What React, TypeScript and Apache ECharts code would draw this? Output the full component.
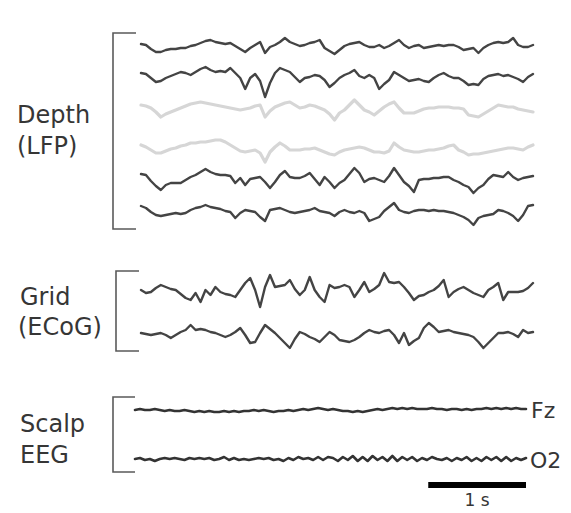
import { useEffect, useRef } from "react";
import * as echarts from "echarts";

// ---- data (trace deviations, px-equivalent units, positive = up) ----
const DURATION_S = 4; // each trace spans 4 s
const SCALE_BAR_S = [3, 4]; // 1 s scale bar

const depth1 = [
  2, 1, -3, -6, -6, -4, -3, -3, -2, -2,
  0, 1, 3, 5, 6, 4, 3, 2, 3, 0,
  -3, -6, -2, 1, 4, -7, -1, 1, 4, 8,
  4, 2, 0, 1, 3, 4, 6, -2, -5, -8,
  -4, 0, 2, 3, 4, 1, -1, -1, 1, -2,
  0, 3, 6, 1, -2, 0, 1, -2, -1, 0,
  1, 0, 1, 1, -1, -4, -3, -2, -7, -2,
  1, 3, 4, 3, 4, 8, 1, -1, -1, 1,
];
const depth2 = [
  2, 1, -3, -7, -6, -3, -1, 1, 3, 2,
  0, 3, 6, 8, 5, 3, 4, 3, 7, 2,
  -3, -14, -3, 1, -6, -22, -8, 2, 7, 5,
  3, -2, -7, -3, -2, 0, -1, -5, -12, -8,
  -3, 0, 2, 5, -1, -3, 0, -3, -14, -9,
  -5, 3, 0, -3, -6, -5, -4, -6, -7, -3,
  0, 2, -1, -3, -3, -6, -10, -9, -10, -4,
  -1, 0, 1, -1, 0, -2, -4, -7, -2, 1,
];
const depth3 = [
  4, 3, 1, -3, -8, -5, -3, -1, 1, 3,
  5, 6, 7, 6, 5, 4, 3, 2, 1, 0,
  -1, 0, 1, 3, 4, -8, -2, 2, 4, 6,
  7, 4, 1, 2, 4, 3, 1, -1, -5, -11,
  -4, -1, 4, 9, 4, -1, -3, -6, -2, 2,
  5, 7, 1, -4, -4, -4, -2, 0, 1, 1,
  2, 2, 2, 1, 1, 0, -6, -7, -8, -5,
  -2, 1, 4, 3, 2, 2, 0, -1, -2, -3,
];
const depth4 = [
  4, 2, -1, -4, -4, -2, 0, 1, 3, 4,
  6, 6, 7, 7, 8, 9, 9, 7, 4, 1,
  -2, -3, -2, -1, -4, -13, -3, 2, 6, 3,
  -1, -1, -1, 0, 0, 1, -1, -3, -5, -6,
  -3, -1, 0, 1, 2, 1, -1, -3, -3, -4,
  -2, 6, 2, -1, -2, -3, -3, -2, -1, -1,
  0, 1, 3, 4, -1, -3, -6, -5, -5, -4,
  -3, -2, -1, 0, 1, 1, 0, -1, 2, 4,
];
const depth5 = [
  5, 4, -2, -7, -11, -6, -4, -4, -4, -1,
  2, 4, 7, 10, 7, 5, 4, 4, 3, -4,
  1, -6, 0, 1, 2, -3, -9, -3, 4, 8,
  2, 1, 1, 3, 6, 0, -6, 2, -3, -9,
  -4, -1, 5, 11, 6, -3, 0, 1, -1, -3,
  3, 11, 4, -3, -7, -13, -1, 0, 0, 1,
  1, 2, 2, -1, -3, -6, -8, -14, -9, -6,
  0, 4, 3, 2, 7, 2, -1, 1, 2, 3,
];
const depth6 = [
  7, 5, 1, -2, -3, -2, -1, 0, -1, 0,
  3, 5, 6, 8, 6, 5, 4, 2, 1, -5,
  0, 3, 2, 1, -4, -8, 3, 4, 5, 3,
  1, 0, 1, 2, 3, 5, 2, 1, 0, -3,
  1, 3, 1, 0, 2, 0, -8, -6, -4, 2,
  6, 10, 3, 1, 0, 2, 3, 3, 2, 3,
  2, 2, 1, 0, -2, -4, -7, -12, -5, -3,
  -2, -1, 3, 2, 0, -3, -8, -2, 7, 8,
];
const ecog1 = [
  0, -3, -2, 2, 5, 3, 1, 0, -4, -8,
  -10, -3, -12, 0, -5, 3, -2, -4, -5, -7,
  0, 7, 12, 0, -17, 3, 15, 3, 4, 5,
  10, 1, -5, 0, 13, 0, -7, -12, 5, 2,
  3, 5, 3, -7, 0, 8, -2, 1, 5, 17,
  8, 7, 8, 3, -3, -10, -6, -5, -2, 0,
  4, 10, -7, -2, 1, 3, 0, -3, -5, -7,
  0, 3, 7, -10, -2, -2, -2, -1, 2, 7,
];
const ecog2 = [
  2, 1, 0, 1, 2, 0, -3, 0, 3, 5,
  10, 5, 6, 5, 3, 2, 0, -2, 0, 3,
  7, 0, -8, -7, 2, 10, 6, 2, -3, -8,
  -13, -4, 3, 1, -2, -4, -7, -2, 3, 0,
  -5, -6, -7, -5, -2, 2, 5, 3, 2, 4,
  5, 0, -8, 2, -10, -6, -3, 7, 12, 8,
  3, 4, 5, 3, 2, 1, 0, -2, -7, -13,
  -8, -3, 2, 2, 3, 1, -2, 5, 2, 3,
];
const fz = [
  0, 1, 0, 0, 1, 0, -1, 0, -1, -1,
  0, -1, -2, -1, -2, -1, -2, -2, -1, -2,
  -1, -2, -1, -1, 0, -1, 0, -1, -2, -1,
  -1, 0, -1, 0, 1, 0, 1, 2, 1, 0,
  1, 0, -1, -1, -2, -1, -2, -1, 0, 1,
  0, 1, 2, 1, 2, 1, 2, 1, 1, 1,
  2, 1, 1, 0, 1, 1, 0, 1, 0, 1,
  1, 2, 1, 2, 1, 2, 1, 2, 1, 1,
];
const o2 = [
  0, 1, -1, 0, -2, 0, 1, 0, 1, 0,
  -1, 1, 0, 1, 0, 1, -1, 0, 2, -1,
  1, -1, 0, -1, 0, 1, 0, 1, -1, 0,
  -2, 1, -1, 2, 0, 1, -1, 2, -1, 2,
  1, -2, 2, -1, 3, -2, 2, -2, 3, -1,
  2, -2, 3, -2, 2, -1, 2, -2, 1, -1,
  2, 0, -1, 1, -2, 1, -1, 2, -2, 1,
  -2, 2, -1, 2, -2, 2, -2, 1, -1, 1,
];

const groupLabels = ["Depth", "(LFP)", "Grid", "(ECoG)", "Scalp", "EEG"];
const channelLabels = ["Fz", "O2"];
const scaleLabel = "1 s";

// ---- layout ----
const W = 571;
const H = 513;
const DARK = "#444444";
const LIGHT = "#d6d6d6";
const TEXT = "#363636";

type Trace = { values: number[]; base: number; color: string; width: number; grid: number };
const traces: Trace[] = [
  { values: depth1, base: 46, color: DARK, width: 2.4, grid: 0 },
  { values: depth2, base: 75, color: DARK, width: 2.4, grid: 0 },
  { values: depth3, base: 109, color: LIGHT, width: 3.2, grid: 0 },
  { values: depth4, base: 149, color: LIGHT, width: 3.2, grid: 0 },
  { values: depth5, base: 179, color: DARK, width: 2.4, grid: 0 },
  { values: depth6, base: 213, color: DARK, width: 2.4, grid: 0 },
  { values: ecog1, base: 290, color: DARK, width: 2.4, grid: 0 },
  { values: ecog2, base: 335, color: DARK, width: 2.4, grid: 0 },
  { values: fz, base: 410, color: "#333", width: 2.6, grid: 1 },
  { values: o2, base: 459, color: "#333", width: 2.6, grid: 1 },
];

export default function App() {
  const ref = useRef<HTMLDivElement>(null);
  useEffect(() => {
    if (!ref.current) return;
    const chart = echarts.init(ref.current, null, { renderer: "svg" });
    const series: any[] = traces.map((t) => ({
      type: "line",
      xAxisIndex: t.grid,
      yAxisIndex: t.grid,
      showSymbol: false,
      symbol: "none",
      silent: true,
      lineStyle: { color: t.color, width: t.width, join: "round", cap: "round" },
      data: t.values.map((v, i) => [(i * DURATION_S) / (t.values.length - 1), t.base - v]),
    }));
    series.push({
      type: "line",
      xAxisIndex: 1,
      yAxisIndex: 1,
      showSymbol: false,
      symbol: "none",
      silent: true,
      lineStyle: { color: "#000", width: 6, cap: "butt" },
      data: SCALE_BAR_S.map((s) => [s, 485]),
    });

    const bracket = (x: number, y1: number, y2: number, x2: number) => ({
      type: "polyline",
      shape: { points: [[x2, y1], [x, y1], [x, y2], [x2, y2]] },
      style: { stroke: "#5a5a5a", lineWidth: 1.6, fill: null },
      silent: true,
    });
    const label = (text: string, x: number, y: number, size: number, align = "left") => ({
      type: "text",
      x,
      y,
      style: {
        text,
        fill: TEXT,
        font: `${size}px "DejaVu Sans", sans-serif`,
        textAlign: align,
        textVerticalAlign: "middle",
      },
      silent: true,
    });

    chart.setOption({
      animation: false,
      backgroundColor: "#fff",
      grid: [
        { left: 141, width: 392, top: 0, height: H },
        { left: 135, width: 391, top: 0, height: H },
      ],
      xAxis: [0, 1].map((g) => ({ type: "value", gridIndex: g, min: 0, max: DURATION_S, show: false })),
      yAxis: [0, 1].map((g) => ({ type: "value", gridIndex: g, min: 0, max: H, inverse: true, show: false })),
      series,
      graphic: [
        bracket(113, 33, 229, 136),
        bracket(116, 271, 351, 139),
        bracket(113, 397, 472, 135),
        label(groupLabels[0], 17, 115, 24),
        label(groupLabels[1], 17, 146, 24),
        label(groupLabels[2], 20, 297, 24),
        label(groupLabels[3], 18, 327, 24),
        label(groupLabels[4], 20, 424, 24),
        label(groupLabels[5], 20, 455, 24),
        label(channelLabels[0], 531, 410, 22),
        label(channelLabels[1], 530, 460, 22),
        label(scaleLabel, 477, 500, 17, "center"),
      ],
    });
    return () => chart.dispose();
  }, []);
  return (
    <div
      ref={ref}
      style={{ position: "fixed", left: 0, top: 0, width: W, height: H, background: "#fff" }}
    />
  );
}
